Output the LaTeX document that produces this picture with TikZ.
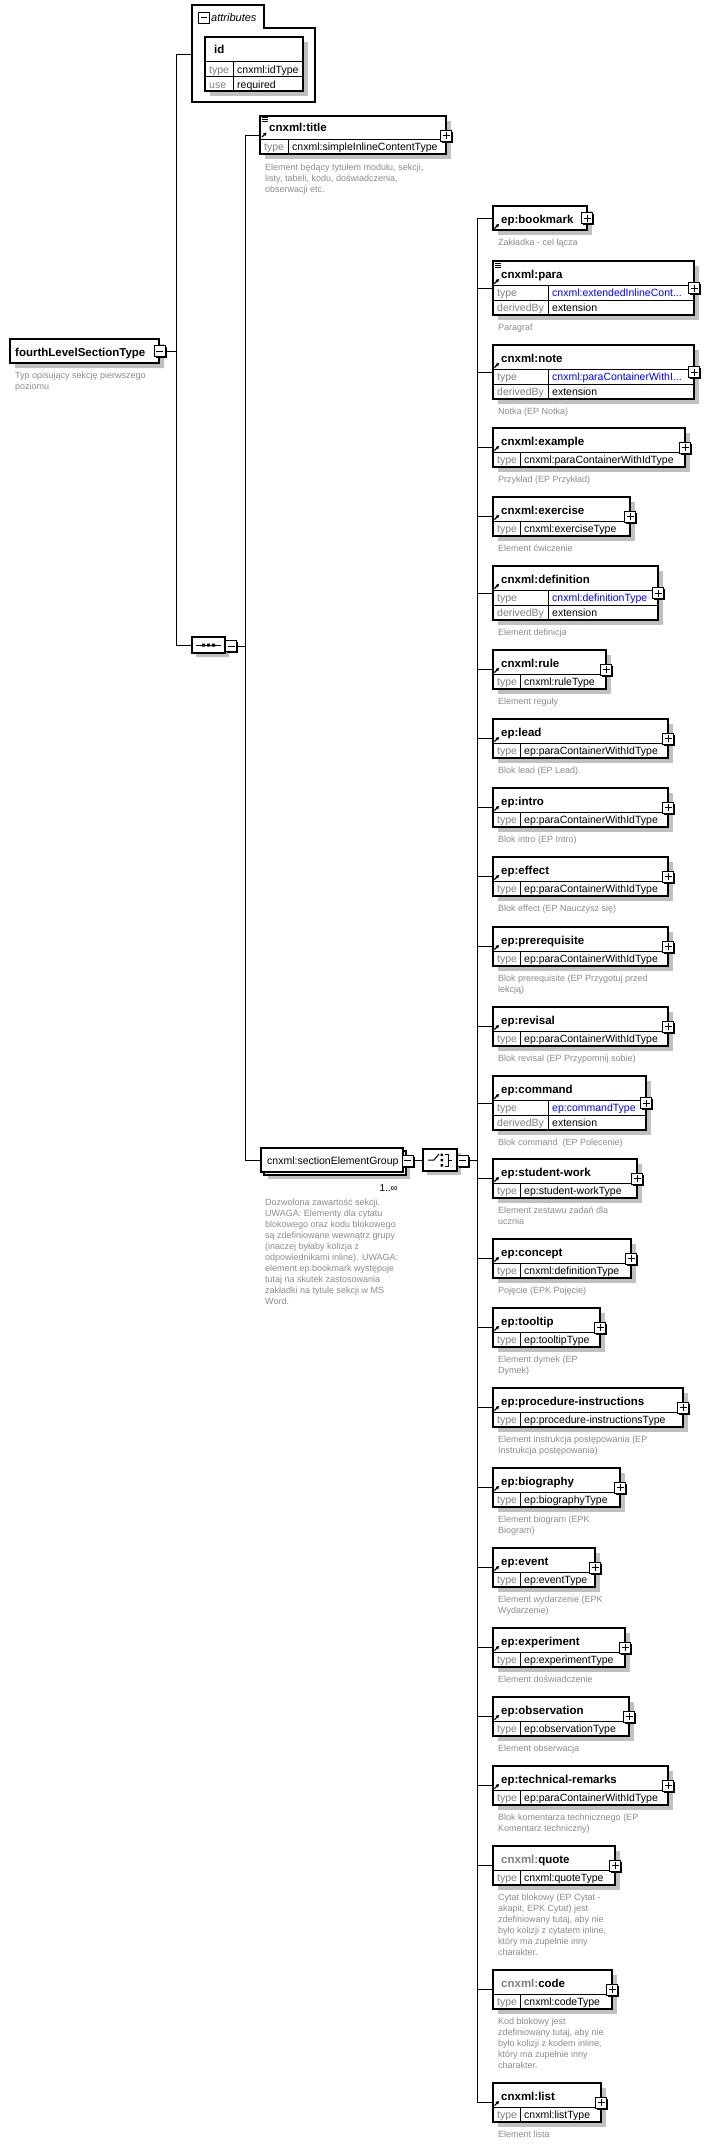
\documentclass[tikz,border=0pt]{standalone}
\usepackage{fontspec}
\setmainfont{Liberation Sans}
\usetikzlibrary{arrows.meta,shapes.misc}
\definecolor{shadowc}{RGB}{192,192,192}
\definecolor{dgray}{RGB}{140,140,140}
\definecolor{labgray}{RGB}{128,128,128}
\definecolor{linkblue}{RGB}{0,0,255}
\tikzset{
  shdnode/.style={draw=none, fill=shadowc},
  ebox/.style={draw, line width=1.1pt, fill=white, inner sep=0pt, outer sep=0pt, anchor=north west},
  octo/.style={draw, fill=white, line width=1.1pt, chamfered rectangle, inner sep=0pt, outer sep=0pt, anchor=north west},
  rowl/.style={line width=0.8pt},
  conn/.style={line width=1pt},
  nm/.style={font=\fontsize{11.5}{13}\selectfont\bfseries, anchor=base west, inner sep=0pt},
  lbl/.style={font=\fontsize{10.5}{12}\selectfont, text=labgray, anchor=base west, inner sep=0pt},
  val/.style={font=\fontsize{10.5}{12}\selectfont, anchor=base west, inner sep=0pt},
  dsc/.style={font=\fontsize{9}{11}\selectfont, text=dgray, anchor=base west, inner sep=0pt},
}
\newcommand\plusbx[3]{%
  \fill (#2-4,#3-4) rectangle (#2+7,#3+7);
  \node[draw, fill=white, line width=1pt, minimum size=11pt, inner sep=0pt, outer sep=0pt] (#1) at (#2,#3) {};
  \draw[line width=1pt] (#2-3.5,#3) -- (#2+3.5,#3) (#2,#3-3.5) -- (#2,#3+3.5);
}
\newcommand\minusbx[3]{%
  \fill (#2-4,#3-4) rectangle (#2+7,#3+7);
  \node[draw, fill=white, line width=1pt, minimum size=11pt, inner sep=0pt, outer sep=0pt] (#1) at (#2,#3) {};
  \draw[line width=1pt] (#2-3.5,#3) -- (#2+3.5,#3);
}
\newcommand\refarrow[2]{%
  \draw[line width=1.1pt, -{Triangle[length=3pt,width=3.4pt]}] (#1,#2) -- (#1+4.5,#2-4.5);
}
\newcommand\docicon[2]{%
  \draw[line width=0.8pt] (#1,#2) -- ++(6,0) (#1,#2+2) -- ++(6,0) (#1,#2+4) -- ++(6,0);
}
% name-only element
\newcommand\boxN[5]{%
  \pgfmathsetmacro\bxB{#2+24}\pgfmathsetmacro\bxM{#2+12}\pgfmathsetmacro\bxW{#3-493}
  \fill[shadowc] (498,#2+5) rectangle (#3+5,\bxB+5);
  \node[ebox, minimum width=\bxW pt, minimum height=24pt] (#1) at (493,#2) {};
  \draw[conn] (ctrunk |- #1.west) -- (#1.west);
  \node[nm] (#1n) at (501,#2+17) {#4};
  \refarrow{494.5}{#2+22.5}
  \plusbx{#1p}{#3}{\bxM}
  \foreach \dl [count=\di] in {#5} {\node[dsc] (#1d\di) at (498,{\bxB+15.5+(\di-1)*11}) {\dl};}
}
% element with type row
\newcommand\boxT[7]{%
  \pgfmathsetmacro\bxB{#2+39}\pgfmathsetmacro\bxM{#2+19.5}\pgfmathsetmacro\bxW{#3-493}
  \fill[shadowc] (498,#2+5) rectangle (#3+5,\bxB+5);
  \node[ebox, minimum width=\bxW pt, minimum height=39pt] (#1) at (493,#2) {};
  \draw[conn] (ctrunk |- #1.west) -- (#1.west);
  \draw[rowl] (493,#2+24) -- (#3,#2+24) (520,#2+24) -- (520,\bxB);
  \node[nm] (#1n) at (501,#2+17) {#4};
  \node[lbl] (#1l) at (497,#2+35.5) {type};
  \node[val] (#1v) at (524,#2+35.5) {#5};
  \ifnum#7=1 \refarrow{494.5}{#2+22.5}\fi
  \plusbx{#1p}{#3}{\bxM}
  \foreach \dl [count=\di] in {#6} {\node[dsc] (#1d\di) at (498,{\bxB+15.5+(\di-1)*11}) {\dl};}
}
% element with type + derivedBy rows
\newcommand\boxD[7]{%
  \pgfmathsetmacro\bxB{#2+54}\pgfmathsetmacro\bxM{#2+27}\pgfmathsetmacro\bxW{#3-493}
  \fill[shadowc] (498,#2+5) rectangle (#3+5,\bxB+5);
  \node[ebox, minimum width=\bxW pt, minimum height=54pt] (#1) at (493,#2) {};
  \draw[conn] (ctrunk |- #1.west) -- (#1.west);
  \draw[rowl] (493,#2+24) -- (#3,#2+24) (493,#2+39) -- (#3,#2+39) (548,#2+24) -- (548,\bxB);
  \ifnum#7=1 \docicon{495}{#2+2}\fi
  \refarrow{494.5}{#2+22.5}
  \node[nm] (#1n) at (501,#2+17) {#4};
  \node[lbl] (#1l) at (497,#2+35.5) {type};
  \node[val, text=linkblue] (#1v) at (552,#2+35.5) {#5};
  \node[lbl] (#1k) at (497,#2+50.5) {derivedBy};
  \node[val] (#1x) at (552,#2+50.5) {extension};
  \plusbx{#1p}{#3}{\bxM}
  \foreach \dl [count=\di] in {#6} {\node[dsc] (#1d\di) at (498,{\bxB+15.5+(\di-1)*11}) {\dl};}
}
\begin{document}
\begin{tikzpicture}[x=1pt,y=-1pt]
\fill[white] (0,0) rectangle (708,2145);
\useasboundingbox (0,0) rectangle (708,2145);

\coordinate (T1) at (176,54);
\coordinate (T2) at (245,135);
\coordinate (ctrunk) at (477,1160);

% ---------- attributes ----------
\draw[line width=1.1pt] (192,5) -- (264,5) -- (264,28) -- (315,28) -- (315,102) -- (192,102) -- cycle;
\coordinate (attr) at (192,54);
\draw[line width=1pt] (198,12) rectangle (209,23) (200.5,17.5) -- (206.5,17.5);
\node[font=\fontsize{11}{13}\selectfont\itshape, anchor=base west, inner sep=0pt] (attrt) at (211,21) {attributes};
\fill[shadowc] (210,42) rectangle (308,96);
\node[ebox, minimum width=98pt, minimum height=54pt] (idb) at (205,37) {};
\draw[rowl] (205,61) -- (303,61) (205,76) -- (303,76) (233,61) -- (233,91);
\node[nm] (idn) at (214,53) {id};
\node[lbl] (idl1) at (209,73) {type};
\node[val] (idv1) at (237,73) {cnxml:idType};
\node[lbl] (idl2) at (209,88) {use};
\node[val] (idv2) at (237,88) {required};

% ---------- root ----------
\node[octo, shdnode, chamfered rectangle corners={north west,south west}, chamfered rectangle xsep=3pt, minimum width=149pt, minimum height=24pt] (roots) at (15,344) {};
\node[octo, chamfered rectangle corners={north west,south west}, chamfered rectangle xsep=3pt, minimum width=149pt, minimum height=24pt] (root) at (10,339) {};
\node[nm] (rootn) at (15,356) {fourthLevelSectionType};
\minusbx{rootm}{159.5}{351}
\node[dsc] (rootd1) at (15,378.5) {Typ opisujący sekcję pierwszego};
\node[dsc] (rootd2) at (15,389.5) {poziomu};

% ---------- sequence ----------
\node[octo, shdnode, chamfered rectangle xsep=5pt, minimum width=33pt, minimum height=16pt] (seqs) at (196,641) {};
\node[octo, chamfered rectangle xsep=5pt, minimum width=33pt, minimum height=16pt] (seq) at (192,637) {};
\draw[line width=1pt] (196,645) -- (221,645);
\fill (202,643.5) rectangle (205,646.5) (207,643.5) rectangle (210,646.5) (212,643.5) rectangle (215,646.5);
\minusbx{seqm}{231}{646}

\draw[conn] (attr) -- (T1) -- (T1 |- seq.west) -- (seq.west);
\draw[conn] (rootm.east) -- (T1 |- rootm.east);
\draw[conn] (seqm.east) -- (T2 |- seqm.east);

% ---------- title ----------
\fill[shadowc] (265,121) rectangle (451,159);
\node[ebox, minimum width=186pt, minimum height=38pt] (title) at (260,116) {};
\draw[rowl] (260,139) -- (446,139) (288,139) -- (288,154);
\docicon{262}{117.5}
\refarrow{262}{137}
\node[nm] (titlen) at (269,131.5) {cnxml:title};
\node[lbl] (titlel) at (264,150.5) {type};
\node[val] (titlev) at (292,150.5) {cnxml:simpleInlineContentType};
\plusbx{titlep}{446}{135.5}
\node[dsc] (titled1) at (265,170) {Element będący tytułem modułu, sekcji,};
\node[dsc] (titled2) at (265,181) {listy, tabeli, kodu, doświadczenia,};
\node[dsc] (titled3) at (265,192) {obserwacji etc.};

% ---------- group ----------
\node[octo, shdnode, chamfered rectangle xsep=4pt, minimum width=142pt, minimum height=24pt] (grps) at (268,1155) {};
\node[octo, chamfered rectangle xsep=4pt, minimum width=142pt, minimum height=24pt] (grpb) at (264,1151) {};
\node[octo, chamfered rectangle xsep=4pt, minimum width=142pt, minimum height=24pt] (grp) at (261,1148) {};
\node[val] (grpn) at (267,1164.5) {cnxml:sectionElementGroup};
\minusbx{grpm}{407.5}{1160.5}
\node[val, anchor=base east, font=\fontsize{10}{12}\selectfont] (grpmul) at (398,1191) {1..∞};
\foreach \dl [count=\di] in {{Dozwolona zawartość sekcji.},{UWAGA: Elementy dla cytatu},{blokowego oraz kodu blokowego},{są zdefiniowane wewnątrz grupy},{(inaczej byłaby kolizja z},{odpowiednikami inline). UWAGA:},{element ep:bookmark występuje},{tutaj na skutek zastosowania},{zakładki na tytule sekcji w MS},{Word.}}
  {\node[dsc] (grpd\di) at (265,{1205.5+(\di-1)*11}) {\dl};}

% ---------- choice ----------
\node[octo, shdnode, chamfered rectangle xsep=6pt, minimum width=34pt, minimum height=22pt] (chos) at (427,1153) {};
\node[octo, chamfered rectangle xsep=6pt, minimum width=34pt, minimum height=22pt] (cho) at (423,1149) {};
\draw[line width=1pt] (428,1160) -- (434,1160) -- (439,1154);
\fill (440.5,1153.5) rectangle (443,1156) (440.5,1158.8) rectangle (443,1161.3) (440.5,1164) rectangle (443,1166.5);
\draw[line width=1pt] (445,1154) -- (448,1154) -- (448,1166) -- (445,1166) (448,1160) -- (452,1160);
\minusbx{chom}{462.5}{1160.5}

\draw[conn] (T2 |- title.west) -- (title.west);
\draw[conn] (T2 |- title.west) -- (T2 |- grp.west) -- (grp.west);
\draw[conn] (grpm.east) -- (cho.west |- grpm.east);
\draw[conn] (chom.east) -- (ctrunk |- chom.east);

% ---------- choice elements ----------
\boxN{bm}{206}{587}{ep:bookmark}{{Zakładka - cel łącza}}
\boxD{para}{261}{694}{cnxml:para}{cnxml:extendedInlineCont...}{{Paragraf}}{1}
\boxD{note}{345}{694}{cnxml:note}{cnxml:paraContainerWithI...}{{Notka (EP Notka)}}{0}
\boxT{exa}{428}{685}{cnxml:example}{cnxml:paraContainerWithIdType}{{Przykład (EP Przykład)}}{1}
\boxT{exe}{497}{630}{cnxml:exercise}{cnxml:exerciseType}{{Element ćwiczenie}}{1}
\boxD{def}{566}{658}{cnxml:definition}{cnxml:definitionType}{{Element definicja}}{0}
\boxT{rule}{650}{606}{cnxml:rule}{cnxml:ruleType}{{Element reguły}}{1}
\boxT{lead}{719}{668}{ep:lead}{ep:paraContainerWithIdType}{{Blok lead (EP Lead).}}{1}
\boxT{intro}{788}{668}{ep:intro}{ep:paraContainerWithIdType}{{Blok intro (EP Intro)}}{1}
\boxT{eff}{857}{668}{ep:effect}{ep:paraContainerWithIdType}{{Blok effect (EP Nauczysz się)}}{1}
\boxT{pre}{927}{668}{ep:prerequisite}{ep:paraContainerWithIdType}{{Blok prerequisite (EP Przygotuj przed},{lekcją)}}{1}
\boxT{rev}{1007}{668}{ep:revisal}{ep:paraContainerWithIdType}{{Blok revisal (EP Przypomnij sobie)}}{1}
\boxD{cmd}{1076}{646}{ep:command}{ep:commandType}{{Blok command\ \ (EP Polecenie)}}{0}
\boxT{sw}{1159}{637}{ep:student-work}{ep:student-workType}{{Element zestawu zadań dla},{ucznia}}{1}
\boxT{con}{1239}{631}{ep:concept}{cnxml:definitionType}{{Pojęcie (EPK Pojęcie)}}{1}
\boxT{tt}{1308}{600}{ep:tooltip}{ep:tooltipType}{{Element dymek (EP},{Dymek)}}{1}
\boxT{pi}{1388}{683}{ep:procedure-instructions}{ep:procedure-instructionsType}{{Element instrukcja postępowania (EP},{Instrukcja postępowania)}}{1}
\boxT{bio}{1468}{620}{ep:biography}{ep:biographyType}{{Element biogram (EPK},{Biogram)}}{1}
\boxT{evt}{1548}{595}{ep:event}{ep:eventType}{{Element wydarzenie (EPK},{Wydarzenie)}}{1}
\boxT{expm}{1628}{625}{ep:experiment}{ep:experimentType}{{Element doświadczenie}}{1}
\boxT{obs}{1697}{629}{ep:observation}{ep:observationType}{{Element obserwacja}}{1}
\boxT{tr}{1766}{668}{ep:technical-remarks}{ep:paraContainerWithIdType}{{Blok komentarza technicznego (EP},{Komentarz techniczny)}}{1}
\boxT{quo}{1846}{615}{\textcolor{labgray}{cnxml:}quote}{cnxml:quoteType}{{Cytat blokowy (EP Cytat -},{akapit, EPK Cytat) jest},{zdefiniowany tutaj, aby nie},{było kolizji z cytatem inline,},{który ma zupełnie inny},{charakter.}}{0}
\boxT{code}{1970}{612}{\textcolor{labgray}{cnxml:}code}{cnxml:codeType}{{Kod blokowy jest},{zdefiniowany tutaj, aby nie},{było kolizji z kodem inline,},{który ma zupełnie inny},{charakter.}}{0}
\boxT{list}{2083}{601}{cnxml:list}{cnxml:listType}{{Element lista}}{1}

\draw[conn] (ctrunk |- bm.west) -- (ctrunk |- list.west);
\end{tikzpicture}
\end{document}
